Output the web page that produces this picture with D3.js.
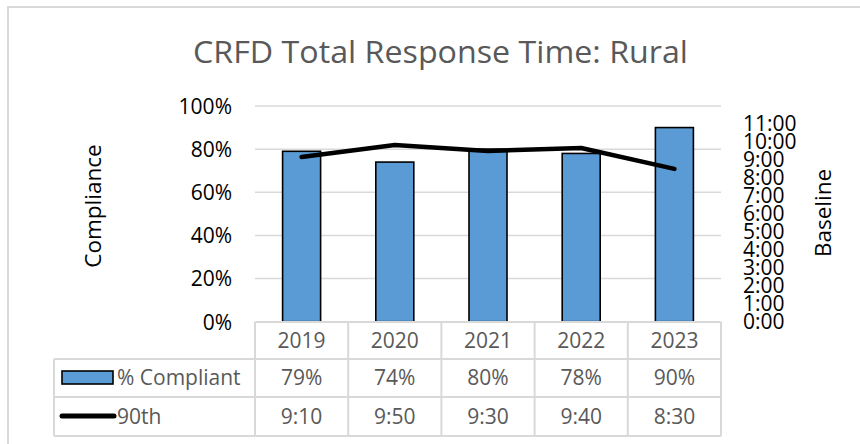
<!DOCTYPE html>
<html>
<head>
<meta charset="utf-8">
<script src="https://cdn.jsdelivr.net/npm/d3@7/dist/d3.min.js"></script>
<style>
  html, body { margin: 0; padding: 0; background: #fff; }
  svg { display: block; }
  text { font-family: "Open Sans", "Noto Sans", sans-serif; }
</style>
</head>
<body>
<svg id="chart" width="860" height="444"></svg>
<script>
// ---- data ----
const years = ["2019", "2020", "2021", "2022", "2023"];
const compliant = [0.79, 0.74, 0.80, 0.78, 0.90];
const baseline90th = ["9:10", "9:50", "9:30", "9:40", "8:30"];
const leftTicks = [0, 0.2, 0.4, 0.6, 0.8, 1.0];
const rightTicks = [0, 1, 2, 3, 4, 5, 6, 7, 8, 9, 10, 11]; // hours
const seriesNames = ["% Compliant", "90th"];
const titleText = "CRFD Total Response Time: Rural";

const toHours = s => { const [h, m] = s.split(":").map(Number); return h + m / 60; };

const svg = d3.select("#chart");
const W = 860, H = 444;
const plot = { left: 255, right: 721, top: 106, bottom: 321.7 };
const grid = "#d9d9d9", txtGray = "#595959", barFill = "#5b9bd5";

// outer frame
svg.append("rect").attr("x", 8).attr("y", 7).attr("width", 900).attr("height", 500)
  .attr("fill", "#fff").attr("stroke", grid).attr("stroke-width", 2);

// title
const title = svg.append("text").attr("x", (193 + 688) / 2).attr("y", 63)
  .attr("text-anchor", "middle").attr("fill", txtGray).attr("font-size", 31)
  .text(titleText);
const tw = title.node().getComputedTextLength();
if (Math.abs(tw - 495) > 3) title.attr("textLength", 495).attr("lengthAdjust", "spacingAndGlyphs");

// scales
const x = d3.scaleBand().domain(years).range([plot.left, plot.right]).padding(0);
const yL = d3.scaleLinear().domain([0, 1]).range([plot.bottom, plot.top]);
const yR = d3.scaleLinear().domain([0, 12]).range([plot.bottom, plot.top]);

// gridlines
svg.append("g").selectAll("line").data(leftTicks.filter(d => d > 0)).join("line")
  .attr("x1", plot.left).attr("x2", plot.right)
  .attr("y1", d => yL(d)).attr("y2", d => yL(d))
  .attr("stroke", grid).attr("stroke-width", 1.5);

// left axis labels
const leftAxis = d3.axisLeft(yL).tickValues(leftTicks).tickFormat(d3.format(".0%")).tickSize(0).tickPadding(0);
const gL = svg.append("g").attr("transform", `translate(232,0)`).call(leftAxis);
gL.select(".domain").remove();
gL.selectAll("text").attr("font-size", 21).attr("fill", "#000")
  .attr("font-family", '"Open Sans", sans-serif').attr("dy", "0.35em");

// right axis labels
const rightAxis = d3.axisRight(yR).tickValues(rightTicks).tickFormat(d => d + ":00").tickSize(0).tickPadding(0);
const gR = svg.append("g").attr("transform", `translate(743,0)`).call(rightAxis);
gR.select(".domain").remove();
gR.selectAll("text").attr("font-size", 21).attr("fill", "#000")
  .attr("font-family", '"Open Sans", sans-serif').attr("dy", "0.32em");

// axis titles
svg.append("text").attr("transform", "translate(101,206) rotate(-90)")
  .attr("text-anchor", "middle").attr("font-size", 22.5).attr("fill", "#000").text("Compliance");
svg.append("text").attr("transform", "translate(831,213) rotate(-90)")
  .attr("text-anchor", "middle").attr("font-size", 22.5).attr("fill", "#000").text("Baseline");

// bars
const barW = 38;
svg.append("g").selectAll("rect").data(years).join("rect")
  .attr("x", d => x(d) + x.bandwidth() / 2 - barW / 2)
  .attr("width", barW)
  .attr("y", (d, i) => yL(compliant[i]))
  .attr("height", (d, i) => yL(0) - yL(compliant[i]))
  .attr("fill", barFill).attr("stroke", "#000").attr("stroke-width", 1.6);

// line
const line = d3.line().x(d => x(d.year) + x.bandwidth() / 2).y(d => yR(d.v));
svg.append("path")
  .datum(years.map((y, i) => ({ year: y, v: toHours(baseline90th[i]) })))
  .attr("d", line).attr("fill", "none").attr("stroke", "#000")
  .attr("stroke-width", 4.5).attr("stroke-linecap", "round").attr("stroke-linejoin", "round");

// data table
const rows = [322, 359, 397, 436];
const tableLeft = 54;
const tg = svg.append("g").attr("stroke", grid).attr("stroke-width", 2).attr("fill", "none");
// horizontal lines
tg.append("line").attr("x1", plot.left).attr("x2", plot.right).attr("y1", rows[0]).attr("y2", rows[0]);
[1, 2, 3].forEach(k => tg.append("line").attr("x1", tableLeft).attr("x2", plot.right).attr("y1", rows[k]).attr("y2", rows[k]));
// vertical lines
const colEdges = years.map(d => x(d)).concat([plot.right]);
colEdges.forEach(cx => tg.append("line").attr("x1", cx).attr("x2", cx).attr("y1", rows[0]).attr("y2", rows[3]));
tg.append("line").attr("x1", tableLeft).attr("x2", tableLeft).attr("y1", rows[1]).attr("y2", rows[3]);

const cellText = (cx, cy, t) => svg.append("text").attr("x", cx).attr("y", cy).attr("dy", "0.35em")
  .attr("text-anchor", "middle").attr("font-size", 21).attr("fill", txtGray).text(t);
years.forEach((yr, i) => {
  const cx = x(yr) + x.bandwidth() / 2;
  cellText(cx, (rows[0] + rows[1]) / 2, yr);
  cellText(cx, (rows[1] + rows[2]) / 2, d3.format(".0%")(compliant[i]));
  cellText(cx, (rows[2] + rows[3]) / 2, baseline90th[i]);
});

// legend keys in table
svg.append("rect").attr("x", 62).attr("y", 371).attr("width", 51).attr("height", 13)
  .attr("fill", barFill).attr("stroke", "#000").attr("stroke-width", 1.6);
svg.append("line").attr("x1", 62).attr("x2", 114).attr("y1", 416).attr("y2", 416)
  .attr("stroke", "#000").attr("stroke-width", 5).attr("stroke-linecap", "round");
svg.append("text").attr("x", 117).attr("y", (rows[1] + rows[2]) / 2).attr("dy", "0.35em")
  .attr("font-size", 21).attr("fill", txtGray).text(seriesNames[0]);
svg.append("text").attr("x", 117).attr("y", (rows[2] + rows[3]) / 2).attr("dy", "0.35em")
  .attr("font-size", 21).attr("fill", txtGray).text(seriesNames[1]);
</script>
</body>
</html>
